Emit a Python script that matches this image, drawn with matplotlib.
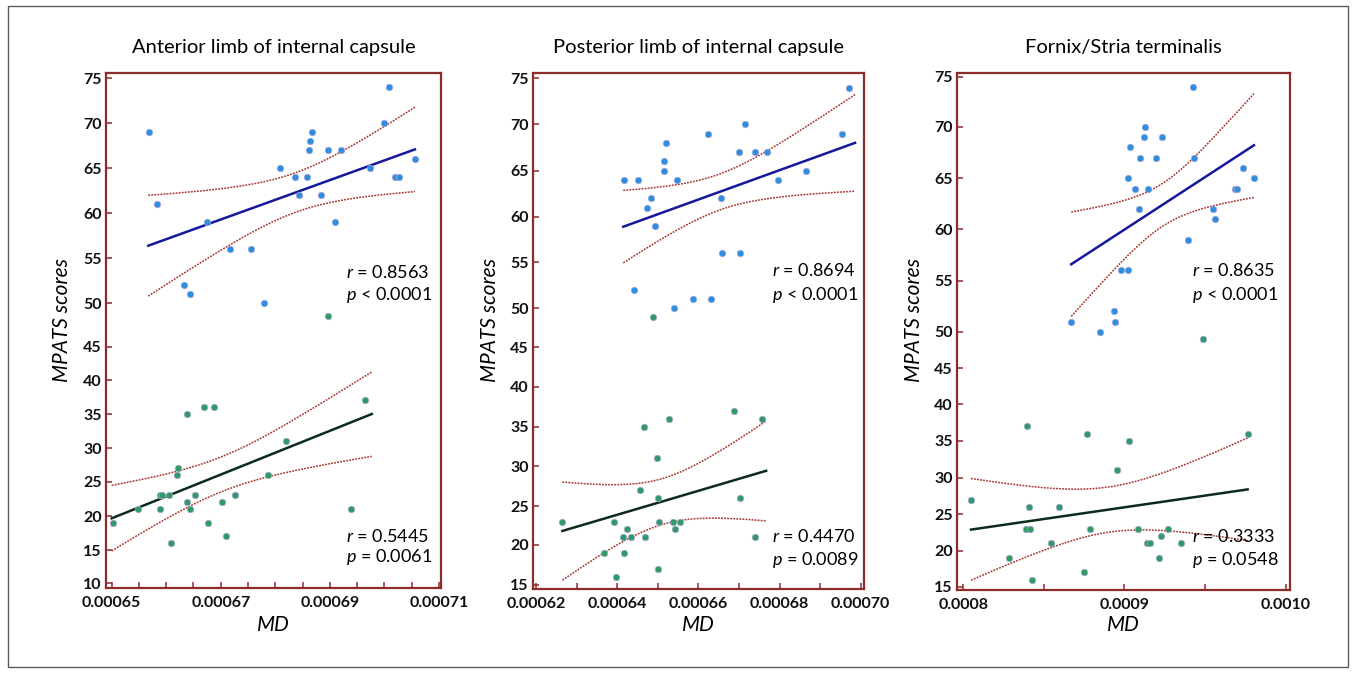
import numpy as np
import matplotlib
matplotlib.use("Agg")
import matplotlib.pyplot as plt
from matplotlib.patches import Rectangle

plt.rcParams['font.family'] = ['Lato', 'DejaVu Sans']
plt.rcParams['mathtext.fontset'] = 'custom'
plt.rcParams['mathtext.it'] = 'Lato:italic'
plt.rcParams['mathtext.rm'] = 'Lato'

# ---------------- data ----------------
titles = ["Anterior limb of internal capsule",
          "Posterior limb of internal capsule",
          "Fornix/Stria terminalis"]

# Panel 1 : Anterior limb of internal capsule
p1_blue_x = [0.0006568, 0.0006583, 0.0006633, 0.0006644, 0.0006675, 0.0006717, 0.0006755,
             0.0006779, 0.0006809, 0.0006836, 0.0006844, 0.0006859, 0.0006862, 0.0006863,
             0.0006868, 0.0006883, 0.0006897, 0.0006910, 0.0006921, 0.0006974, 0.0006999,
             0.0007008, 0.0007019, 0.0007027, 0.0007057]
p1_blue_y = [69, 61, 52, 51, 59, 56, 56, 50, 65, 64, 62, 64, 67, 68, 69, 62, 67, 59, 67,
             65, 70, 74, 64, 64, 66]
p1_green_x = [0.0006502, 0.0006548, 0.0006588, 0.0006593, 0.0006589, 0.0006605, 0.0006608,
              0.0006620, 0.0006622, 0.0006639, 0.0006639, 0.0006644, 0.0006652, 0.0006669,
              0.0006676, 0.0006687, 0.0006702, 0.0006710, 0.0006726, 0.0006787, 0.0006820,
              0.0006939, 0.0006964]
p1_green_y = [19, 21, 23, 23, 21, 23, 16, 26, 27, 35, 22, 21, 23, 36, 19, 36, 22, 17, 23,
              26, 31, 21, 37]
p1_extra_x = [0.0006897]
p1_extra_y = [48.5]
p1_blue_fit_x = [0.0006567, 0.0007056]
p1_blue_fit_y = [56.4, 67.1]
p1_green_fit_x = [0.0006500, 0.0006977]
p1_green_fit_y = [19.66, 35.0]
p1_blue_ci = [0.0006838, 2.2, 5.6]     # centre, half-width at centre, half-width at left end
p1_green_ci = [0.0006699, 2.6, 4.8]
p1_stats = [("0.8563", "<", "0.0001"), ("0.5445", "=", "0.0061")]

# Panel 2 : Posterior limb of internal capsule
p2_blue_x = [0.0006418, 0.0006451, 0.0006441, 0.0006473, 0.0006483, 0.0006494, 0.0006515,
             0.0006515, 0.0006520, 0.0006540, 0.0006547, 0.0006586, 0.0006631, 0.0006623,
             0.0006656, 0.0006658, 0.0006700, 0.0006703, 0.0006716, 0.0006740, 0.0006770,
             0.0006797, 0.0006866, 0.0006954, 0.0006972]
p2_blue_y = [64, 64, 52, 61, 62, 59, 65, 66, 68, 50, 64, 51, 51, 69, 62, 56, 67, 56, 70,
             67, 67, 64, 65, 69, 74]
p2_green_x = [0.0006263, 0.0006368, 0.0006391, 0.0006396, 0.0006414, 0.0006418, 0.0006423,
              0.0006433, 0.0006456, 0.0006466, 0.0006468, 0.0006499, 0.0006500, 0.0006500,
              0.0006504, 0.0006528, 0.0006537, 0.0006542, 0.0006555, 0.0006688, 0.0006703,
              0.0006740, 0.0006758]
p2_green_y = [23, 19, 23, 16, 21, 19, 22, 21, 27, 35, 21, 31, 26, 17, 23, 36, 23, 22, 23,
              37, 26, 21, 36]
p2_extra_x = [0.0006489]
p2_extra_y = [48.9]
p2_blue_fit_x = [0.0006415, 0.0006986]
p2_blue_fit_y = [58.9, 68.0]
p2_green_fit_x = [0.0006265, 0.0006767]
p2_green_fit_y = [21.8, 29.4]
p2_blue_ci = [0.0006652, 1.96, 3.96]
p2_green_ci = [0.0006513, 2.9, 6.2]
p2_stats = [("0.8694", "<", "0.0001"), ("0.4470", "=", "0.0089")]

# Panel 3 : Fornix/Stria terminalis
p3_blue_x = [0.0008670, 0.0008849, 0.0008935, 0.0008942, 0.0008979, 0.0009024, 0.0009022,
             0.0009035, 0.0009066, 0.0009093, 0.0009097, 0.0009124, 0.0009130, 0.0009145,
             0.0009196, 0.0009232, 0.0009397, 0.0009424, 0.0009430, 0.0009552, 0.0009562,
             0.0009686, 0.0009701, 0.0009738, 0.0009806]
p3_blue_y = [51, 50, 52, 51, 56, 56, 65, 68, 64, 62, 67, 69, 70, 64, 67, 69, 59, 74, 67,
             62, 61, 64, 64, 66, 65]
p3_green_x = [0.0008048, 0.0008284, 0.0008395, 0.0008389, 0.0008416, 0.0008410, 0.0008426,
              0.0008546, 0.0008594, 0.0008751, 0.0008768, 0.0008784, 0.0008954, 0.0009027,
              0.0009087, 0.0009138, 0.0009159, 0.0009213, 0.0009225, 0.0009271, 0.0009351,
              0.0009765]
p3_green_y = [27, 19, 37, 23, 23, 26, 16, 21, 26, 17, 36, 23, 31, 35, 23, 21, 21, 19, 22,
              23, 21, 36]
p3_extra_x = [0.0009490]
p3_extra_y = [49.0]
p3_blue_fit_x = [0.0008670, 0.0009804]
p3_blue_fit_y = [56.6, 68.2]
p3_green_fit_x = [0.0008048, 0.0009765]
p3_green_fit_y = [22.9, 28.4]
p3_blue_ci = [0.0009238, 2.1, 5.1]
p3_green_ci = [0.0008905, 3.1, 7.0]
p3_stats = [("0.8635", "<", "0.0001"), ("0.3333", "=", "0.0548")]

p1_yticks = [10, 15, 20, 25, 30, 35, 40, 45, 50, 55, 60, 65, 70, 75]
p23_yticks = [15, 20, 25, 30, 35, 40, 45, 50, 55, 60, 65, 70, 75]
p1_xticks = [0.00065, 0.00067, 0.00069, 0.00071]
p2_xticks = [0.00062, 0.00064, 0.00066, 0.00068, 0.00070]
p3_xticks = [0.0008, 0.0009, 0.0010]

# ---------------- layout ----------------
W, H = 1356, 673
SPINE = "#8E2B2B"
BLUE = "#2B8FE0"
GREEN = "#2E9A66"
EDGE = "#ABA3D6"
BLUE_LINE = "#16189C"
GREEN_LINE = "#0C2B1C"
CI_COL = "#A5352E"

panels = [
    dict(box=(106, 73, 441, 588), xref=(111.7, 0.00065, 5.453e6), xminor=0.000005,
         xfmt="{:.5f}", yticks=p1_yticks,
         ypix=[583.3, 550, 516, 481.7, 448.3, 414, 380, 346.5, 303.3, 258.3, 213.3, 168.3, 123.3, 78.3],
         xticks=p1_xticks,
         blue=(p1_blue_x, p1_blue_y), green=(p1_green_x, p1_green_y), extra=(p1_extra_x, p1_extra_y),
         bfit=(p1_blue_fit_x, p1_blue_fit_y), gfit=(p1_green_fit_x, p1_green_fit_y),
         bci=p1_blue_ci, gci=p1_green_ci, stats=p1_stats,
         txt=(346, [(272, 295), (537, 557)]), ylab=(62, 320)),
    dict(box=(533, 73, 864, 589), xref=(536.0, 0.00062, 4.059e6), xminor=0.00001,
         xfmt="{:.5f}", yticks=p23_yticks,
         ypix=[585, 545, 506, 466, 426.7, 386.7, 347.3, 308.3, 262.3, 216.7, 170.7, 124.3, 78.3],
         xticks=p2_xticks,
         blue=(p2_blue_x, p2_blue_y), green=(p2_green_x, p2_green_y), extra=(p2_extra_x, p2_extra_y),
         bfit=(p2_blue_fit_x, p2_blue_fit_y), gfit=(p2_green_fit_x, p2_green_fit_y),
         bci=p2_blue_ci, gci=p2_green_ci, stats=p2_stats,
         txt=(772, [(271, 295), (537, 560)]), ylab=(490, 320)),
    dict(box=(957, 73, 1290, 590), xref=(963.3, 0.0008, 1.611e6), xminor=0.00005,
         xfmt="{:.4f}", yticks=p23_yticks,
         ypix=[586.7, 550.7, 514.3, 477.7, 441, 404, 368.3, 331.7, 280.7, 229.3, 178.3, 126.7, 76.5],
         xticks=p3_xticks,
         blue=(p3_blue_x, p3_blue_y), green=(p3_green_x, p3_green_y), extra=(p3_extra_x, p3_extra_y),
         bfit=(p3_blue_fit_x, p3_blue_fit_y), gfit=(p3_green_fit_x, p3_green_fit_y),
         bci=p3_blue_ci, gci=p3_green_ci, stats=p3_stats,
         txt=(1192, [(270, 295), (537, 560)]), ylab=(914, 320)),
]


def make_scale(vals, pix):
    v = np.asarray(vals, float)
    p = -np.asarray(pix, float)

    def lin_ext(z, a, b):
        z = np.asarray(z, float)
        out = np.interp(z, a, b)
        lo_s = (b[1] - b[0]) / (a[1] - a[0])
        hi_s = (b[-1] - b[-2]) / (a[-1] - a[-2])
        out = np.where(z < a[0], b[0] + (z - a[0]) * lo_s, out)
        out = np.where(z > a[-1], b[-1] + (z - a[-1]) * hi_s, out)
        return out

    return (lambda y: lin_ext(y, v, p)), (lambda q: lin_ext(q, p, v))


def ci_band(fx, fy, c):
    xc, h0, hl = c
    xs = np.linspace(fx[0], fx[1], 120)
    ys = np.interp(xs, fx, fy)
    k2 = (hl ** 2 - h0 ** 2) / (fx[0] - xc) ** 2
    hw = np.sqrt(h0 ** 2 + k2 * (xs - xc) ** 2)
    return xs, ys + hw, ys - hw


fig = plt.figure(figsize=(W / 100, H / 100), dpi=100)
fig.add_artist(Rectangle((8 / W, 1 - 667 / H), (1348 - 8) / W, (667 - 6) / H,
                         transform=fig.transFigure, fill=False, ec="#5a5a5a", lw=1.0))

for i, P in enumerate(panels):
    l, t, r, b = P["box"]
    ax = fig.add_axes([l / W, 1 - b / H, (r - l) / W, (b - t) / H])
    fwd, inv = make_scale(P["yticks"], P["ypix"])
    ax.set_yscale("function", functions=(fwd, inv))
    ax.set_ylim(float(inv(-b)), float(inv(-t)))
    px0, x0, sc = P["xref"]
    ax.set_xlim(x0 + (l - px0) / sc, x0 + (r - px0) / sc)

    # confidence bands
    for fitxy, ci in ((P["bfit"], P["bci"]), (P["gfit"], P["gci"])):
        xs, up, lo = ci_band(fitxy[0], fitxy[1], ci)
        ax.plot(xs, up, color=CI_COL, lw=1.1, ls=(0, (1.2, 0.8)), zorder=2)
        ax.plot(xs, lo, color=CI_COL, lw=1.1, ls=(0, (1.2, 0.8)), zorder=2)
    # fit lines
    ax.plot(P["bfit"][0], P["bfit"][1], color=BLUE_LINE, lw=1.8, zorder=3)
    ax.plot(P["gfit"][0], P["gfit"][1], color=GREEN_LINE, lw=1.8, zorder=3)
    # points
    ax.scatter(P["blue"][0], P["blue"][1], s=22, color=BLUE, edgecolors=EDGE, linewidths=0.5, zorder=4)
    ax.scatter(P["green"][0], P["green"][1], s=22, color=GREEN, edgecolors=EDGE, linewidths=0.5, zorder=4)
    ax.scatter(P["extra"][0], P["extra"][1], s=22, color=GREEN, edgecolors=EDGE, linewidths=0.5, zorder=4)

    # axes styling
    for sp in ax.spines.values():
        sp.set_color(SPINE)
        sp.set_linewidth(1.6)
    ax.set_yticks(P["yticks"], labels=[str(v) for v in P["yticks"]],
                  fontsize=11.5, fontweight="bold")
    ax.set_xticks(P["xticks"], labels=[P["xfmt"].format(v) for v in P["xticks"]],
                  fontsize=11.5, fontweight="bold")
    xl = ax.get_xlim()
    step = P["xminor"]
    n0 = int(np.ceil(xl[0] / step - 1e-6))
    n1 = int(np.floor(xl[1] / step + 1e-6))
    ax.set_xticks([k * step for k in range(n0, n1 + 1)], minor=True)
    ax.yaxis.set_minor_locator(matplotlib.ticker.NullLocator())
    ax.tick_params(axis="both", which="both", direction="in", color=SPINE,
                   length=4.5, width=1.1, labelcolor="#111111")
    ax.tick_params(axis="y", pad=3)
    ax.tick_params(axis="x", pad=6)

    # titles / labels
    cx = (l + r) / 2
    fig.text(cx / W, 1 - 47 / H, titles[i], ha="center", va="center", fontsize=14.5)
    fig.text(cx / W, 1 - 625 / H, "MD", ha="center", va="center", fontsize=15, style="italic")
    ylx, yly = P["ylab"]
    fig.text(ylx / W, 1 - yly / H, "MPATS scores", ha="center", va="center",
             rotation=90, fontsize=15, style="italic")

    tx, rows = P["txt"]
    for (ry, py), (rv, op, pv) in zip(rows, P["stats"]):
        fig.text(tx / W, 1 - ry / H, "$r$ = " + rv, ha="left", va="center", fontsize=13, zorder=5)
        fig.text(tx / W, 1 - py / H, "$p$ " + op + " " + pv, ha="left", va="center", fontsize=13, zorder=5)

fig.savefig("out.png", dpi=100)
